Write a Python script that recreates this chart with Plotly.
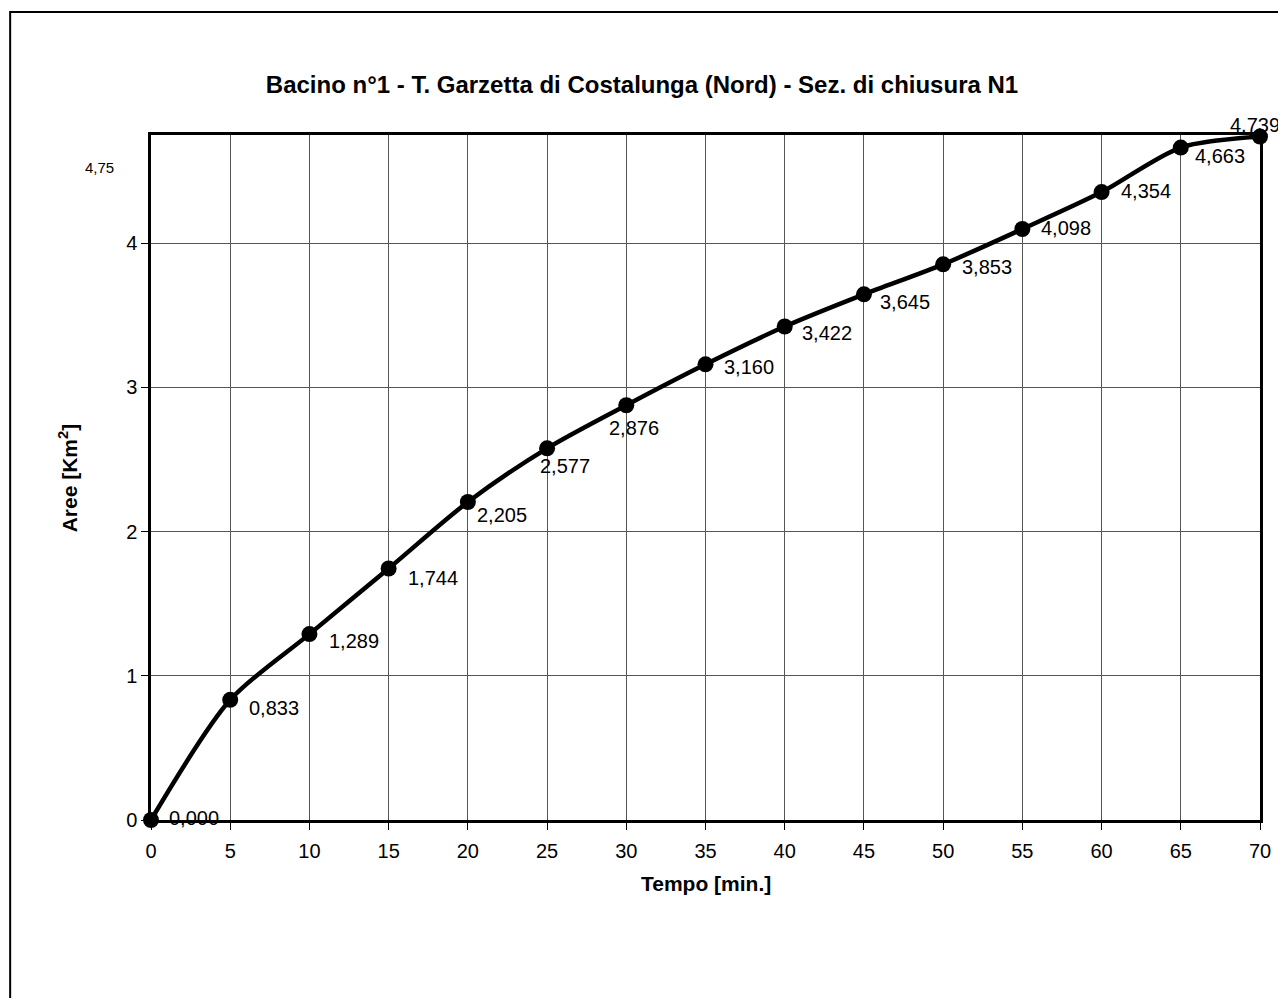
import plotly.graph_objects as go

# ---- data ----
tempo = [0, 5, 10, 15, 20, 25, 30, 35, 40, 45, 50, 55, 60, 65, 70]
aree = [0.000, 0.833, 1.289, 1.744, 2.205, 2.577, 2.876, 3.160, 3.422,
        3.645, 3.853, 4.098, 4.354, 4.663, 4.739]
x_ticks = list(range(0, 75, 5))
y_ticks = [0, 1, 2, 3, 4]

title_text = "Bacino n°1 - T. Garzetta di Costalunga (Nord) - Sez. di chiusura N1"
x_title = "Tempo [min.]"
y_title = "Aree [Km<sup>2</sup>]"

# label offsets in pixels (left edge dx, downward dy) -- style only
label_dx = [16, 17, 18, 17, 7, -9, -19, 16, 15, 14, 17, 17, 17, 12, -32]
label_dy = [-2, 8, 7, 9, 13, 18, 23, 3, 6, 8, 3, -1, -1, 8, -12]

FONT = "Liberation Sans, Arial, sans-serif"

fig = go.Figure()
fig.add_trace(go.Scatter(
    x=tempo, y=aree, mode="lines+markers",
    line=dict(color="black", width=4.5, shape="spline", smoothing=0.8),
    marker=dict(color="black", size=16),
    cliponaxis=False, showlegend=False, hoverinfo="x+y",
))

annotations = []
for xv, yv, dx, dy in zip(tempo, aree, label_dx, label_dy):
    annotations.append(dict(
        x=xv, y=yv, xref="x", yref="y",
        text=f"{yv:.3f}".replace(".", ","),
        showarrow=False, xanchor="left", yanchor="middle",
        xshift=dx, yshift=-dy,
        font=dict(family=FONT, size=20, color="black"),
    ))

# stray "4,75" label
annotations.append(dict(
    x=-0.046, y=0.952, xref="paper", yref="paper", text="4,75",
    showarrow=False, xanchor="center", yanchor="middle",
    font=dict(family=FONT, size=15, color="black"),
))
# x axis title
annotations.append(dict(
    x=0.5, y=-0.093, xref="paper", yref="paper", text="<b>" + x_title + "</b>",
    showarrow=False, xanchor="center", yanchor="middle",
    font=dict(family=FONT, size=21, color="black"),
))
# y axis title
annotations.append(dict(
    x=-0.075, y=0.50, xref="paper", yref="paper", text="<b>" + y_title + "</b>",
    showarrow=False, xanchor="center", yanchor="middle", textangle=-90,
    font=dict(family=FONT, size=21, color="black"),
))

fig.update_layout(
    width=1286, height=998,
    margin=dict(l=143, r=34, t=127, b=186),
    paper_bgcolor="white", plot_bgcolor="white",
    font=dict(family=FONT, size=20, color="black"),
    title=dict(text="<b>" + title_text + "</b>", x=0.493, xref="container",
               xanchor="center", y=1 - 77 / 998, yref="container",
               yanchor="middle", font=dict(family=FONT, size=24, color="black")),
    annotations=annotations,
    shapes=[dict(type="rect", xref="paper", yref="paper",
                 x0=-0.127, y0=-0.6, x1=1.3, y1=1.1796,
                 line=dict(color="black", width=2), layer="below")],
)
fig.update_xaxes(
    range=[0, 70], tickmode="array", tickvals=x_ticks,
    ticktext=[str(v) for v in x_ticks],
    showline=True, linecolor="black", linewidth=2.5, mirror=True,
    showgrid=True, gridcolor="#555555", gridwidth=1,
    ticks="outside", ticklen=7, tickcolor="black", tickwidth=1,
    ticklabelstandoff=4,
    zeroline=False, tickfont=dict(family=FONT, size=20),
)
fig.update_yaxes(
    range=[0, 4.75], tickmode="array", tickvals=y_ticks,
    ticktext=[str(v) for v in y_ticks],
    showline=True, linecolor="black", linewidth=2.5, mirror=True,
    showgrid=True, gridcolor="#555555", gridwidth=1,
    ticks="outside", ticklen=7, tickcolor="black", tickwidth=1,
    zeroline=False, tickfont=dict(family=FONT, size=20),
)

fig.write_html("out.html")
